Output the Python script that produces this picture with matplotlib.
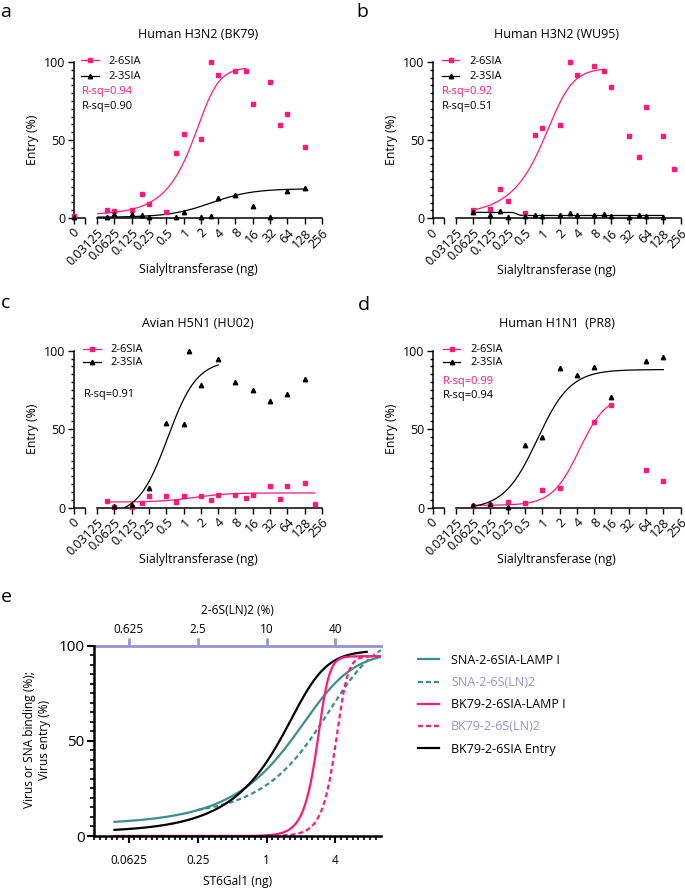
import numpy as np
import matplotlib
matplotlib.use('Agg')
import matplotlib.pyplot as plt
from matplotlib.lines import Line2D
from matplotlib.ticker import MultipleLocator, NullLocator, LogLocator, NullFormatter

plt.rcParams['font.family'] = ['Open Sans', 'DejaVu Sans']

W, H = 685, 888
PINK = '#ff1a7a'
TEAL = '#3b8f8b'
LAV = '#9494d4'

# x axis of panels a-d (ng of sialyltransferase, log2 spaced)
conc_ticks = [0.03125, 0.0625, 0.125, 0.25, 0.5, 1, 2, 4, 8, 16, 32, 64, 128, 256]
conc_labels = ['0.03125', '0.0625', '0.125', '0.25', '0.5', '1', '2', '4',
               '8', '16', '32', '64', '128', '256']

# a: Human H3N2 (BK79)
a_conc_26 = [0, 0.046875, 0.0625, 0.125, 0.1875, 0.25, 0.5, 0.75, 1, 2, 3, 4, 8, 12, 16, 32, 48, 64, 128]
a_entry_26 = [1.3, 5.1, 4.5, 5.3, 15.5, 8.8, 3.6, 41.9, 53.8, 50.6, 100, 91.7, 94, 94, 72.9, 87.4, 59.6, 66.7, 45.7]
a_conc_23 = [0, 0.046875, 0.0625, 0.125, 0.1875, 0.25, 0.75, 1, 2, 3, 4, 8, 16, 32, 64, 128]
a_entry_23 = [0.5, 0.6, 2.4, 2.8, 1.7, 0.6, 0.9, 3.8, 0.9, 1.3, 12.6, 14.7, 7.9, 0.9, 17.1, 19.2]
# fit: bottom, top, midpoint, hill, asymmetry, first x, last x
a_fit_26 = [2, 96.5, 2.5, 2.6, 0.42, 0.03125, 12]
a_fit_23 = [0.5, 18.8, 3.0, 1.2, 1.0, 0.03125, 128]

# b: Human H3N2 (WU95)
b_conc_26 = [0.0625, 0.125, 0.1875, 0.25, 0.5, 0.75, 1, 2, 3, 4, 8, 12, 16, 32, 48, 64, 128, 192]
b_entry_26 = [5.1, 6.1, 18.5, 11, 3.6, 53, 57.5, 59.4, 100, 91.7, 97.4, 94.3, 83.8, 52.6, 39.1, 71.3, 52.6, 31.7]
b_conc_23 = [0.0625, 0.125, 0.1875, 0.25, 0.5, 0.75, 1, 2, 3, 4, 8, 12, 16, 32, 48, 64, 128]
b_entry_23 = [3.8, 2.3, 4.9, 1, 1.3, 2.1, 1.3, 1.9, 3.4, 2.1, 2.1, 2.5, 1.3, 1, 2.1, 1.3, 1]
b_fit_26 = [2, 96, 1.84, 2.2, 0.45, 0.0625, 12]
b_fit_23 = [3.8, 1.8, 0.36, 15, 1.0, 0.0625, 128]

# c: Avian H5N1 (HU02)
c_conc_26 = [0.046875, 0.0625, 0.125, 0.1875, 0.25, 0.5, 0.75, 1, 2, 3, 4, 8, 12, 16, 32, 48, 64, 128, 192]
c_entry_26 = [4.3, 0.3, 0.3, 2.8, 7.7, 7.4, 3.6, 7.4, 7.4, 4.9, 7.9, 8.1, 6.4, 8.3, 13.6, 5.3, 13.6, 15.7, 2.4]
c_conc_23 = [0.0625, 0.125, 0.25, 0.5, 1, 1.25, 2, 4, 8, 16, 32, 64, 128]
c_entry_23 = [1.3, 1.7, 12.7, 54, 53.1, 100, 78.3, 95, 79.9, 75, 67.8, 72.4, 81.8]
c_fit_26 = [3.6, 9.4, 1.5, 1.5, 1.0, 0.046875, 192]
c_fit_23 = [-5, 94, 0.53, 1.7, 1.0, 0.0625, 4]

# d: Human H1N1 (PR8)
d_conc_26 = [0.0625, 0.125, 0.25, 0.5, 1, 2, 8, 16, 64, 128]
d_entry_26 = [1.3, 1.7, 3.4, 3, 11.1, 12.5, 54.8, 65.6, 23.8, 16.8]
d_conc_23 = [0.0625, 0.125, 0.25, 0.5, 1, 2, 4, 8, 16, 64, 128]
d_entry_23 = [1.7, 2.1, 0.3, 40.1, 44.8, 88.8, 84.5, 89.6, 70.5, 93.2, 96.2]
d_fit_26 = [1.5, 72, 4.4, 1.85, 1.0, 0.0625, 16]
d_fit_23 = [-1, 88, 0.82, 1.5, 1.0, 0.0625, 128]

# e: fitted curves vs ST6Gal1 (ng); top axis is 2-6S(LN)2 (%)
e_names = ['SNA-2-6SIA-LAMP I', 'SNA-2-6S(LN)2', 'BK79-2-6SIA-LAMP I', 'BK79-2-6S(LN)2', 'BK79-2-6SIA Entry']
e_bottom = [6, 10, 0, 0, 2]
e_top = [97, 106, 94.5, 94.5, 97.5]
e_xb = [3.07, 4.8, 3.07, 4.45, 2.29]
e_hill = [2.2, 2.2, 10, 10, 3.2]
e_asym = [0.45, 0.5, 0.5, 0.5, 0.35]
e_start = [0.046875, 0.25, 0.046875, 1.0, 0.046875]
e_end = [10, 10, 10, 10, 7.5]
e_ticks = [0.0625, 0.25, 1, 4]
e_top_ticks = [0.625, 2.5, 10, 40]


def px_rect(x0, x1, y0, y1):
    return [x0 / W, 1 - y1 / H, (x1 - x0) / W, (y1 - y0) / H]


def fy(py):
    return 1 - py / H


def hill(x, lo, hi, xb, h, s=1.0):
    return lo + (hi - lo) / (1 + (xb / x) ** h) ** s


def legend_at(fig, handles, labels, x, y_first, gap, fs, **kw):
    # place a legend so that its first row is centred on y_first (pixels)
    em = fs * 100 / 72
    return fig.legend(handles, labels, loc='upper left',
                      bbox_to_anchor=(x / W, fy(y_first - 0.56 * em)),
                      frameon=False, fontsize=fs, borderpad=0, borderaxespad=0,
                      labelspacing=gap / em - 1.11, numpoints=1, **kw)


def dose_panel(fig, x0, x1, y0, y1, title, sets, leg_x, leg_y, leg_gap, rsq):
    az = fig.add_axes(px_rect(x0, x0 + 11, y0, y1))   # the "0" piece of the broken axis
    ax = fig.add_axes(px_rect(x0 + 23, x1, y0, y1))
    for a in (az, ax):
        a.set_ylim(0, 100)
        a.patch.set_visible(False)
        for s in ('top', 'right'):
            a.spines[s].set_visible(False)
        for s in ('left', 'bottom'):
            a.spines[s].set_linewidth(1.1)
        a.tick_params(which='major', length=4, width=1.0, labelsize=9, pad=2)
        a.tick_params(which='minor', length=2.5, width=1.0)
    az.set_xlim(0, 1)
    az.set_xticks([0, 1], ['0', ''], rotation=45, ha='center', va='top')
    az.set_yticks([0, 50, 100])
    az.yaxis.set_minor_locator(MultipleLocator(5))
    ax.spines['left'].set_visible(False)
    ax.set_xscale('log', base=2)
    ax.set_xlim(conc_ticks[0], conc_ticks[-1])
    ax.set_xticks(conc_ticks, conc_labels, rotation=45, ha='right', va='top',
                  rotation_mode='anchor')
    ax.xaxis.set_minor_locator(NullLocator())
    ax.set_yticks([])

    handles = []
    for conc, entry, fit, color, marker in sets:
        conc = np.array(conc, dtype=float)
        entry = np.array(entry, dtype=float)
        zero = conc == 0
        if zero.any():
            az.plot(conc[zero], entry[zero], ls='none', marker=marker, ms=3.2,
                    color=color, clip_on=False, zorder=5)
        ax.plot(conc[~zero], entry[~zero], ls='none', marker=marker, ms=3.2,
                color=color, clip_on=False, zorder=5)
        xs = np.geomspace(fit[5], fit[6], 300)
        ax.plot(xs, hill(xs, *fit[:5]), color=color, lw=0.9)
        handles.append(Line2D([], [], color=color, marker=marker, ms=3.2, lw=0.9))

    cx = (x0 + x1) / 2
    fig.text(cx / W, fy(y0 - 27), title, ha='center', va='center', fontsize=9)
    fig.text((x0 - 41.5) / W, fy((y0 + y1) / 2), 'Entry (%)', rotation=90,
             ha='center', va='center', fontsize=8.8)
    fig.text(cx / W, fy(y1 + 52), 'Sialyltransferase (ng)', ha='center',
             va='center', fontsize=8.8)
    legend_at(fig, handles, ['2-6SIA', '2-3SIA'], leg_x, leg_y, leg_gap, 8,
              handlelength=1.6, handletextpad=0.9)
    for txt, color, ty in rsq:
        fig.text((leg_x + 0.5) / W, fy(ty), txt, color=color, fontsize=8,
                 ha='left', va='center')


fig = plt.figure(figsize=(W / 100, H / 100), dpi=100)

dose_panel(fig, 74, 322, 62, 218, 'Human H3N2 (BK79)',
           [(a_conc_26, a_entry_26, a_fit_26, PINK, 's'),
            (a_conc_23, a_entry_23, a_fit_23, 'black', '^')],
           81, 62, 17, [('R-sq=0.94', PINK, 91.7), ('R-sq=0.90', 'black', 106)])
dose_panel(fig, 432.7, 680.7, 62, 218.3, 'Human H3N2 (WU95)',
           [(b_conc_26, b_entry_26, b_fit_26, PINK, 's'),
            (b_conc_23, b_entry_23, b_fit_23, 'black', '^')],
           441.7, 62, 17, [('R-sq=0.92', PINK, 91.7), ('R-sq=0.51', 'black', 106)])
dose_panel(fig, 74, 322, 350.7, 507.7, 'Avian H5N1 (HU02)',
           [(c_conc_26, c_entry_26, c_fit_26, PINK, 's'),
            (c_conc_23, c_entry_23, c_fit_23, 'black', '^')],
           83, 350.7, 14.3, [('R-sq=0.91', 'black', 394.3)])
dose_panel(fig, 432.7, 680.7, 350.7, 507.7, 'Human H1N1  (PR8)',
           [(d_conc_26, d_entry_26, d_fit_26, PINK, 's'),
            (d_conc_23, d_entry_23, d_fit_23, 'black', '^')],
           442.7, 350.7, 14.3, [('R-sq=0.99', PINK, 381.7), ('R-sq=0.94', 'black', 395)])

# panel e
ae = fig.add_axes(px_rect(94.3, 381, 645.7, 836))
ae.patch.set_visible(False)
ae.set_xscale('log', base=2)
ae.set_xlim(0.03125, 10)
ae.set_ylim(0, 100)
ae.spines['right'].set_visible(False)
ae.spines['top'].set_visible(False)
for s in ('left', 'bottom'):
    ae.spines[s].set_linewidth(1.8)
ae.set_xticks(e_ticks, ['0.0625', '0.25', '1', '4'])
ae.xaxis.set_minor_locator(LogLocator(base=2, subs=2 ** (np.arange(6) / 6), numticks=100))
ae.xaxis.set_minor_formatter(NullFormatter())
ae.set_yticks([0, 50, 100])
ae.yaxis.set_minor_locator(MultipleLocator(5))
ae.tick_params(axis='x', which='major', length=5, width=1.5, labelsize=8.5, pad=8)
ae.tick_params(axis='y', which='major', length=5, width=1.5, labelsize=11, pad=2)
ae.tick_params(which='minor', length=3, width=1.2)

sec = ae.secondary_xaxis('top', functions=(lambda x: x * 10, lambda x: x / 10))
sec.set_xticks(e_top_ticks, ['0.625', '2.5', '10', '40'])
sec.xaxis.set_minor_locator(NullLocator())
sec.spines['top'].set_color(LAV)
sec.spines['top'].set_linewidth(2)
sec.tick_params(axis='x', which='major', length=6, width=2, color=LAV, labelsize=8.5, pad=1)

e_colors = [TEAL, TEAL, PINK, PINK, 'black']
e_styles = ['-', (0, (2.2, 1.4)), '-', (0, (2.2, 1.4)), '-']
e_order = [1, 0, 4, 3, 2]
for i in e_order:
    xs = np.geomspace(e_start[i], e_end[i], 400)
    ae.plot(xs, hill(xs, e_bottom[i], e_top[i], e_xb[i], e_hill[i], e_asym[i]),
            color=e_colors[i], ls=e_styles[i], lw=1.6)

e_handles = [Line2D([], [], color=e_colors[i], ls=e_styles[i], lw=1.6) for i in range(5)]
legend_at(fig, e_handles, e_names, 418, 660.7, 23.1, 9.0, handlelength=1.7,
          handletextpad=0.95, labelcolor=['black', LAV, 'black', LAV, 'black'])

fig.text(237.7 / W, fy(610), '2-6S(LN)2 (%)', ha='center', va='center', fontsize=8.6)
fig.text(237.7 / W, fy(881.5), 'ST6Gal1 (ng)', ha='center', va='center', fontsize=8.6)
fig.text(37 / W, fy(740), 'Virus or SNA binding (%);\nVirus entry (%)', rotation=90,
         ha='center', va='center', fontsize=8.6, multialignment='center')

# panel letters
for letter, lx, ly in [('a', 0, 17), ('b', 356, 17), ('c', 1, 308), ('d', 358, 310), ('e', 1, 602)]:
    fig.text(lx / W, fy(ly), letter, fontsize=14, ha='left', va='baseline')

fig.savefig('out.png', dpi=100)
